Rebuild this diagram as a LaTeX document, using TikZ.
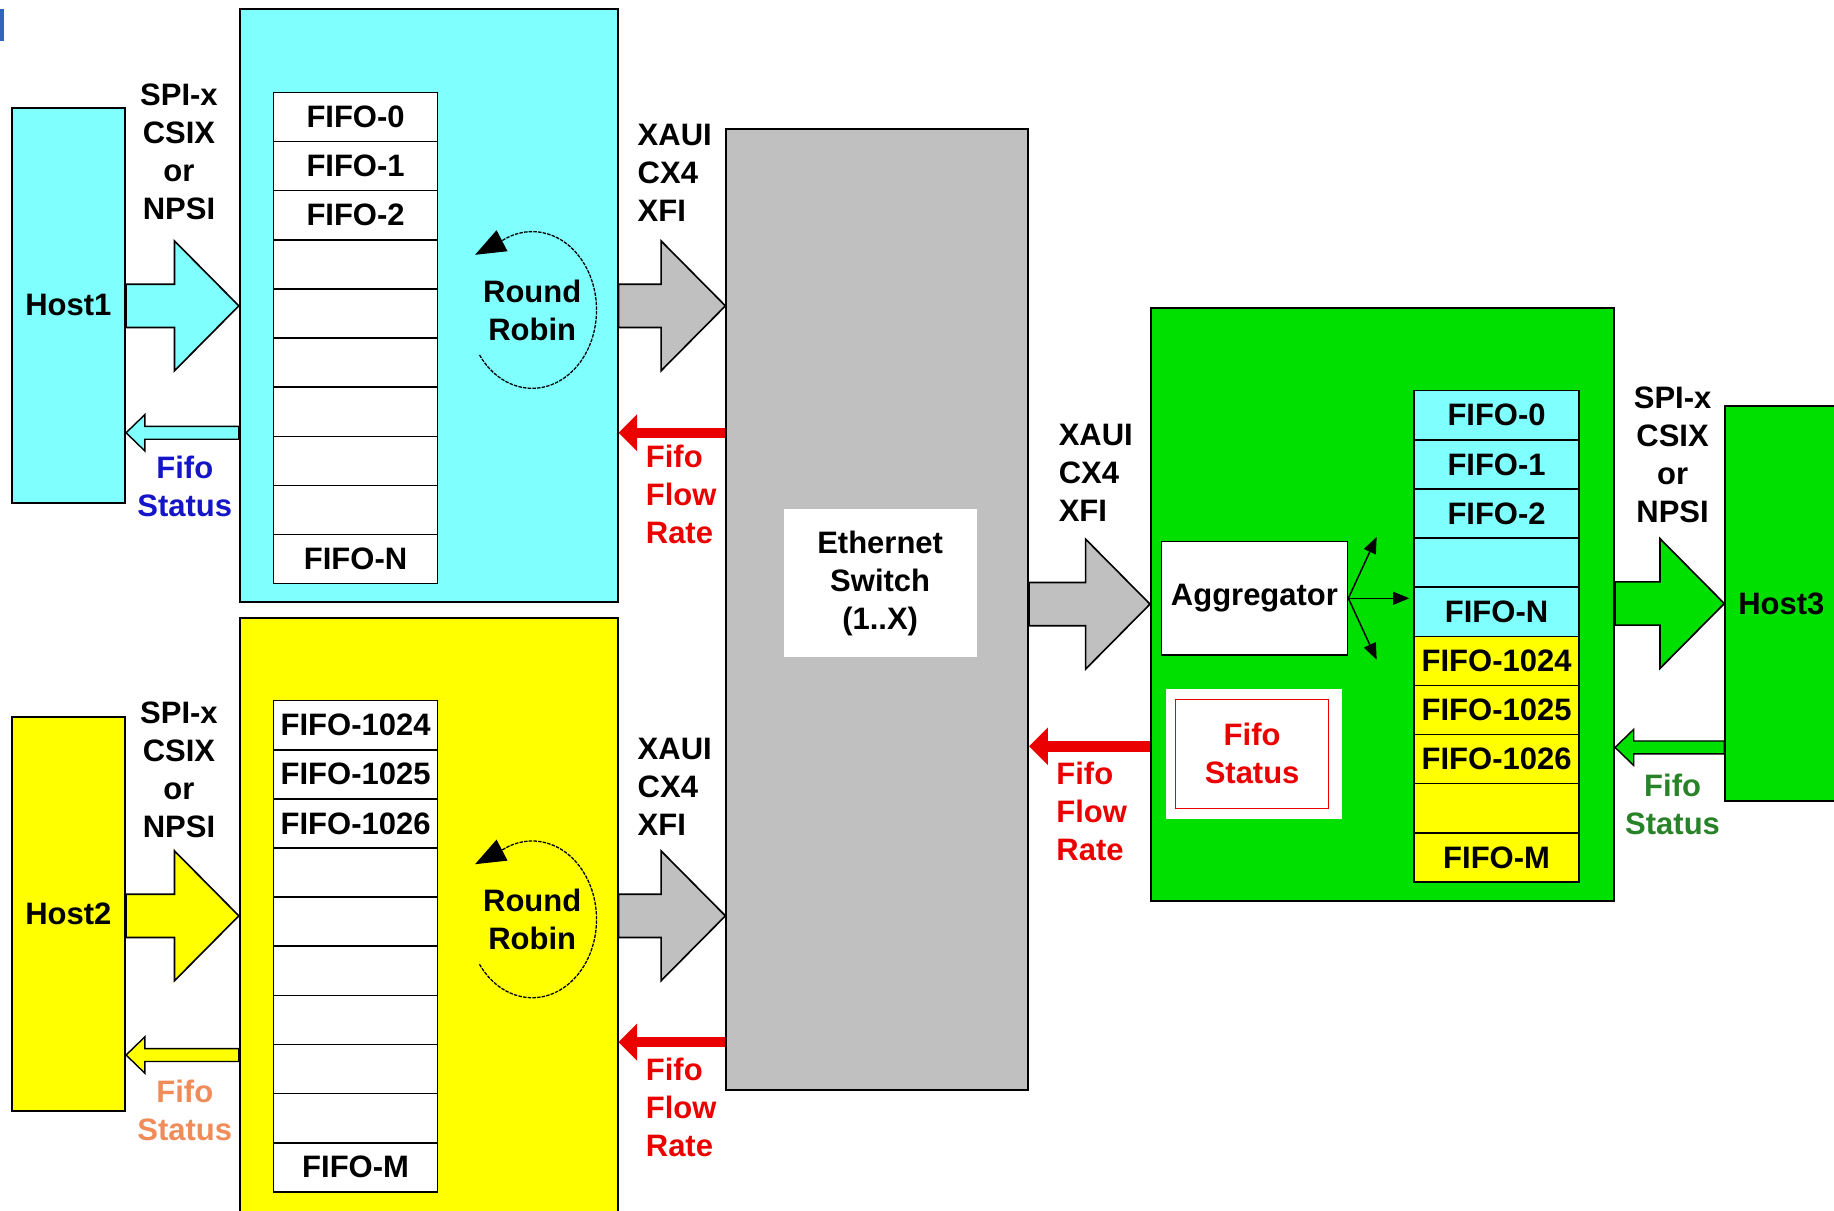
\documentclass[tikz,border=0pt]{standalone}
\usepackage{fontspec}
\setmainfont{Liberation Sans}
\usepackage{tikz}
\usetikzlibrary{arrows.meta,positioning,calc}

\definecolor{cyanbg}{RGB}{128,255,255}
\definecolor{yellowbg}{RGB}{255,255,0}
\definecolor{greenbg}{RGB}{0,224,0}
\definecolor{switchgray}{RGB}{192,192,192}
\definecolor{markblue}{RGB}{50,100,190}
\definecolor{statblue}{RGB}{20,20,200}
\definecolor{statorange}{RGB}{240,140,90}
\definecolor{statgreen}{RGB}{40,130,40}
\definecolor{flowred}{RGB}{235,0,0}

% wide interface arrow, tip at the second point
\newcommand{\fatarrow}[3]{%
  \draw[fat, fill=#1] let \p1=#2, \p2=#3 in
    (\x1,\y2+18.5pt) -- (\x2-55pt,\y2+18.5pt) -- (\x2-55pt,\y2+55.5pt) -- (\x2,\y2)
    -- (\x2-55pt,\y2-55.5pt) -- (\x2-55pt,\y2-18.5pt) -- (\x1,\y2-18.5pt) -- cycle;}
% narrow status arrow, pointing left to the second point
\newcommand{\statarrow}[3]{%
  \draw[line width=1.2pt, fill=#1] let \p1=#2, \p2=#3 in
    (\x1,\y1+5.5pt) -- (\x2+16pt,\y1+5.5pt) -- (\x2+16pt,\y1+15.5pt) -- (\x2,\y1)
    -- (\x2+16pt,\y1-15.5pt) -- (\x2+16pt,\y1-5.5pt) -- (\x1,\y1-5.5pt) -- cycle;}

\begin{document}
\begin{tikzpicture}[
    x=1pt, y=-1pt,
    every node/.style={font=\bfseries\fontsize{26.5}{32.5}\selectfont},
    box/.style={rectangle, draw, line width=1.6pt, inner sep=0pt},
    fifo/.style={box, line width=1.3pt, minimum width=140pt, minimum height=42pt},
    lbl/.style={align=center, inner sep=0pt},
    lbll/.style={align=left, anchor=west, inner sep=0pt},
    fat/.style={draw, line width=1.4pt, line join=miter},
    flow/.style={draw=flowred, line width=9pt, -{Triangle[length=16pt,width=31pt]}},
    fan/.style={line width=1.3pt, -{Triangle[length=14pt,width=11pt]}},
    rr/.style={line width=1.1pt, dash pattern=on 3pt off 1pt, -{Triangle[length=26pt,width=20pt]}}
]
    \useasboundingbox (0,0) rectangle (1568,1035);
    \fill[markblue] (0,8) rectangle (3,35);

    % hosts and line cards
    \node[box, fill=cyanbg, minimum width=97pt, minimum height=338pt] (host1) at (58.5,261) {Host1};
    \node[box, fill=yellowbg, minimum width=97pt, minimum height=337pt] (host2) at (58.5,781.5) {Host2};
    \node[box, fill=greenbg, minimum width=96pt, minimum height=338pt] (host3) at (1523,516) {Host3};
    \node[box, fill=cyanbg, minimum width=323pt, minimum height=507pt] (dev1) at (366.5,261.5) {};
    \node[box, fill=yellowbg, minimum width=323pt, minimum height=510pt] (dev2) at (366.5,783) {};
    \node[box, fill=switchgray, minimum width=258pt, minimum height=822pt] (switch) at (750,521) {};
    \node[fill=white, minimum width=165pt, minimum height=127pt, align=center] (swlbl) at (752.5,498.5) {Ethernet\\Switch\\(1..X)};
    \node[box, fill=greenbg, minimum width=396pt, minimum height=507pt] (green) at (1182,516.5) {};
    \node[box, fill=white, minimum width=159pt, minimum height=97pt] (agg) at (1072.5,511.5) {Aggregator};
    \node[fill=white, minimum width=150pt, minimum height=111pt] (fsbox) at (1072,644.5) {};
    \node[draw=flowred, line width=1.2pt, minimum width=131pt, minimum height=93pt, text=flowred, align=center] (fstat) at (1070.5,644.5) {Fifo\\Status};

    % fifo stacks
    \foreach \txt [count=\i from 0] in {FIFO-0,FIFO-1,FIFO-2,{},{},{},{},{},{},FIFO-N}
        \node[fifo, fill=white] (fa\i) at (304,{100+42*\i}) {\txt};
    \foreach \txt [count=\i from 0] in {FIFO-1024,FIFO-1025,FIFO-1026,{},{},{},{},{},{},FIFO-M}
        \node[fifo, fill=white] (fb\i) at (304,{620+42*\i}) {\txt};
    \foreach \txt/\col [count=\i from 0] in {FIFO-0/cyanbg,FIFO-1/cyanbg,FIFO-2/cyanbg,/cyanbg,FIFO-N/cyanbg,
        FIFO-1024/yellowbg,FIFO-1025/yellowbg,FIFO-1026/yellowbg,/yellowbg,FIFO-M/yellowbg}
        \node[fifo, fill=\col, minimum width=141pt] (fc\i) at (1279.5,{355+42*\i}) {\txt};

    % round robin
    \node[lbl] (rr1) at (455,265) {Round\\Robin};
    \node[lbl] (rr2) at (455,786) {Round\\Robin};
    \draw[rr] ($(rr1.center)+(145:55 and 67)$) arc[start angle=145, end angle=-118, x radius=55, y radius=67] -- ++(-23,12);
    \draw[rr] ($(rr2.center)+(145:55 and 67)$) arc[start angle=145, end angle=-118, x radius=55, y radius=67] -- ++(-23,12);

    % interface arrows
    \fatarrow{cyanbg}{(host1.east)}{(dev1.west)}
    \fatarrow{switchgray}{(dev1.east)}{(dev1.east -| switch.west)}
    \fatarrow{yellowbg}{(host2.east)}{(dev2.west)}
    \fatarrow{switchgray}{(dev2.east)}{(dev2.east -| switch.west)}
    \fatarrow{switchgray}{(switch.east |- green.west)}{(green.west)}
    \fatarrow{greenbg}{(green.east)}{(host3.west)}

    % status and flow rate
    \coordinate (s1) at (0,370);
    \coordinate (s2) at (0,902);
    \coordinate (s3) at (0,639);
    \coordinate (r1) at (0,370);
    \coordinate (r2) at (0,891);
    \coordinate (r3) at (0,638);
    \statarrow{cyanbg}{(dev1.west |- s1)}{(host1.east |- s1)}
    \statarrow{yellowbg}{(dev2.west |- s2)}{(host2.east |- s2)}
    \statarrow{greenbg}{(host3.west |- s3)}{(green.east |- s3)}
    \draw[flow] (switch.west |- r1) -- (dev1.east |- r1);
    \draw[flow] (switch.west |- r2) -- (dev2.east |- r2);
    \draw[flow] (green.west |- r3) -- (switch.east |- r3);

    % aggregator fan out
    \coordinate (aup) at (1177,459);
    \coordinate (aright) at (1205,511.5);
    \coordinate (adown) at (1177,564);
    \draw[fan] (agg.east) -- (aup);
    \draw[fan] (agg.east) -- (aright);
    \draw[fan] (agg.east) -- (adown);

    % labels
    \node[lbl] (spi1) at (153,129.5) {SPI-x\\CSIX\\or\\NPSI};
    \node[lbl] (spi2) at (153,658.5) {SPI-x\\CSIX\\or\\NPSI};
    \node[lbl] (spi3) at (1430,389) {SPI-x\\CSIX\\or\\NPSI};
    \node[lbll] (xaui1) at (545,147.5) {XAUI\\CX4\\XFI};
    \node[lbll] (xaui2) at (545,673) {XAUI\\CX4\\XFI};
    \node[lbll] (xaui3) at (905,404) {XAUI\\CX4\\XFI};
    \node[lbll, text=flowred] (rate1) at (552,422.5) {Fifo\\Flow\\Rate};
    \node[lbll, text=flowred] (rate2) at (552,947) {Fifo\\Flow\\Rate};
    \node[lbll, text=flowred] (rate3) at (903,694) {Fifo\\Flow\\Rate};
    \node[lbl, text=statblue] (stat1) at (158,416) {Fifo\\Status};
    \node[lbl, text=statorange] (stat2) at (158,949) {Fifo\\Status};
    \node[lbl, text=statgreen] (stat3) at (1430,688) {Fifo\\Status};
\end{tikzpicture}
\end{document}
